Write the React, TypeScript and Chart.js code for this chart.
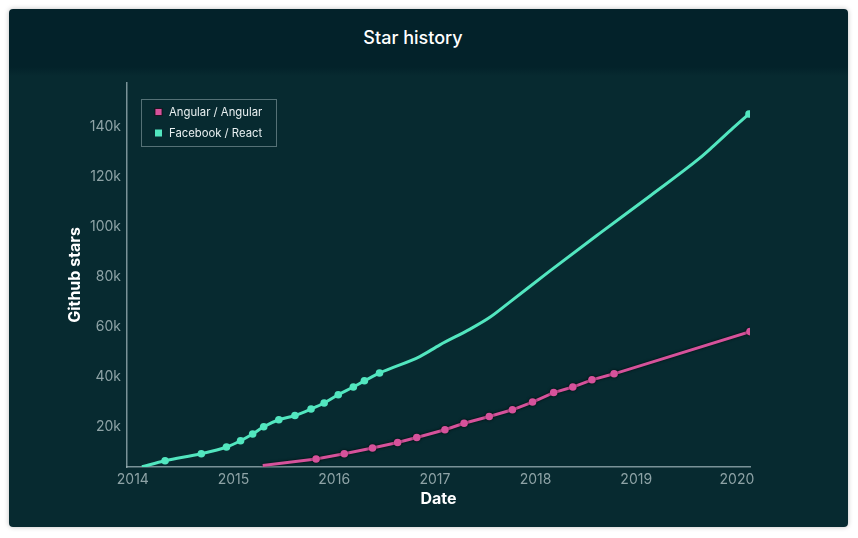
import { useEffect, useRef } from 'react'
import { Chart, registerables, type Plugin } from 'chart.js'

Chart.register(...registerables)

// Facebook / React stars (decimal year, stars)
const reactDates = [
  2014.09, 2014.32, 2014.68, 2014.93, 2015.07, 2015.19, 2015.3, 2015.45, 2015.61,
  2015.77, 2015.9, 2016.04, 2016.19, 2016.3, 2016.45, 2016.85, 2017.05, 2017.35,
  2017.55, 2017.75, 2018.14, 2018.64, 2019.14, 2019.63, 2019.76, 2019.96, 2020.12,
]
const reactStars = [
  3900, 6300, 9100, 11800, 14300, 17000, 19900, 22700, 24400,
  27000, 29400, 32700, 35800, 38300, 41400, 48000, 52700, 59000,
  63800, 70000, 82200, 97400, 112400, 127400, 132000, 139400, 145100,
]

// Angular / Angular stars
const angularDates = [
  2015.29, 2015.82, 2016.1, 2016.38, 2016.63, 2016.82, 2017.1, 2017.29,
  2017.54, 2017.77, 2017.97, 2018.18, 2018.37, 2018.56, 2018.78, 2020.13,
]
const angularStars = [
  4400, 7000, 9100, 11400, 13600, 15600, 18700, 21300,
  24000, 26700, 29800, 33600, 35800, 38700, 41100, 58000,
]

const yearTicks = [2014, 2015, 2016, 2017, 2018, 2019, 2020]
const starTicks = [20000, 40000, 60000, 80000, 100000, 120000, 140000]

const seriesNames = ['Angular / Angular', 'Facebook / React']

const PINK = '#d6529b'
const TEAL = '#52e6bf'
const TICK_COLOR = '#8ea3a6'
const AXIS_COLOR = 'rgba(160,182,186,0.75)'
const FONT = 'Inter, "Open Sans", sans-serif'

// legend box drawn inside the plot, top-left
const boxLegend: Plugin<'line'> = {
  id: 'boxLegend',
  afterDraw(chart) {
    const { ctx, chartArea } = chart
    const x = chartArea.left + 14
    const y = chartArea.top + 16
    const w = 135
    const h = 47
    ctx.save()
    ctx.strokeStyle = 'rgba(150,172,176,0.55)'
    ctx.lineWidth = 1
    ctx.strokeRect(x + 0.5, y + 0.5, w, h)
    const colors = [PINK, TEAL]
    ctx.font = `400 11.3px ${FONT}`
    ctx.textBaseline = 'middle'
    seriesNames.forEach((name, i) => {
      const cy = y + 13 + i * 21
      ctx.fillStyle = colors[i]
      ctx.fillRect(x + 14, cy - 3.5, 7, 7)
      if (i === 0) {
        ctx.strokeStyle = 'rgba(20,10,20,0.8)'
        ctx.strokeRect(x + 14, cy - 3.5, 7, 7)
      }
      ctx.fillStyle = '#e9f0f1'
      ctx.fillText(name, x + 28, cy + 1)
    })
    ctx.restore()
  },
}

// dark outline under the pink line
const pinkShadow: Plugin<'line'> = {
  id: 'pinkShadow',
  beforeDatasetDraw(chart, args) {
    if (args.index !== 0) return
    chart.ctx.save()
    chart.ctx.shadowColor = 'rgba(0,0,0,0.75)'
    chart.ctx.shadowBlur = 3
  },
  afterDatasetDraw(chart, args) {
    if (args.index !== 0) return
    chart.ctx.restore()
  },
}

function StarHistory() {
  const canvasRef = useRef<HTMLCanvasElement>(null)
  const chartRef = useRef<Chart | null>(null)

  useEffect(() => {
    if (!canvasRef.current) return
    const lastReact = reactDates.length - 1

    chartRef.current = new Chart(canvasRef.current, {
      type: 'line',
      data: {
        datasets: [
          {
            label: seriesNames[0],
            data: angularDates.map((x, i) => ({ x, y: angularStars[i] })),
            borderColor: PINK,
            backgroundColor: PINK,
            borderWidth: 3,
            tension: 0,
            pointRadius: (c) => (c.dataIndex === 0 ? 0 : 3.8),
            pointBorderWidth: 0,
          },
          {
            label: seriesNames[1],
            data: reactDates.map((x, i) => ({ x, y: reactStars[i] })),
            borderColor: TEAL,
            backgroundColor: TEAL,
            borderWidth: 3,
            cubicInterpolationMode: 'monotone',
            pointRadius: (c) =>
              (c.dataIndex > 0 && reactDates[c.dataIndex] < 2016.5) || c.dataIndex === lastReact ? 3.8 : 0,
            pointBorderWidth: 0,
          },
        ],
      },
      options: {
        responsive: false,
        maintainAspectRatio: false,
        animation: false,
        layout: { padding: { left: 53, top: 74, right: 98, bottom: 14 } },
        plugins: { legend: { display: false }, tooltip: { enabled: false } },
        scales: {
          x: {
            type: 'linear',
            min: 2013.942,
            max: 2020.13,
            afterBuildTicks: (s) => { s.ticks = yearTicks.map((value) => ({ value })) },
            afterFit: (s) => { s.height = 46 },
            grid: { display: false, drawTicks: false },
            border: { display: true, color: AXIS_COLOR, width: 1.5 },
            ticks: {
              color: TICK_COLOR,
              font: { family: FONT, size: 14 },
              padding: 4,
              maxRotation: 0,
              callback: (v) => String(v),
            },
            title: {
              display: true,
              text: 'Date',
              color: '#ffffff',
              font: { family: FONT, size: 16, weight: 'bold' },
              padding: { top: 0, bottom: 4 },
            },
          },
          y: {
            type: 'linear',
            min: 3800,
            max: 157500,
            afterBuildTicks: (s) => { s.ticks = starTicks.map((value) => ({ value })) },
            afterFit: (s) => { s.width = 65 },
            grid: { display: false, drawTicks: false },
            border: { display: true, color: AXIS_COLOR, width: 1.5 },
            ticks: {
              color: TICK_COLOR,
              font: { family: FONT, size: 14 },
              padding: 6,
              callback: (v) => `${Number(v) / 1000}k`,
            },
            title: {
              display: true,
              text: 'Github stars',
              color: '#ffffff',
              font: { family: FONT, size: 16, weight: 'bold' },
              padding: { top: 4, bottom: 0 },
            },
          },
        },
      },
      plugins: [pinkShadow, boxLegend],
    })

    return () => {
      chartRef.current?.destroy()
      chartRef.current = null
    }
  }, [])

  return <canvas ref={canvasRef} width={839} height={518} style={{ position: 'absolute', left: 0, top: 0 }} />
}

export default function App() {
  return (
    <div style={{ position: 'fixed', inset: 0, background: '#ffffff' }}>
      <div
        style={{
          position: 'absolute',
          left: 9,
          top: 9,
          width: 839,
          height: 518,
          borderRadius: 4,
          overflow: 'hidden',
          boxShadow: '0 0 5px rgba(0,0,0,0.25)',
          background: 'linear-gradient(to bottom, #03222a 0px, #03222a 58px, #072a30 67px, #072a30 100%)',
        }}
      >
        <div
          style={{
            position: 'absolute',
            left: 0,
            width: 808,
            top: 18,
            textAlign: 'center',
            color: '#ffffff',
            font: `500 18px ${FONT}`,
          }}
        >
          Star history
        </div>
        <StarHistory />
      </div>
    </div>
  )
}
